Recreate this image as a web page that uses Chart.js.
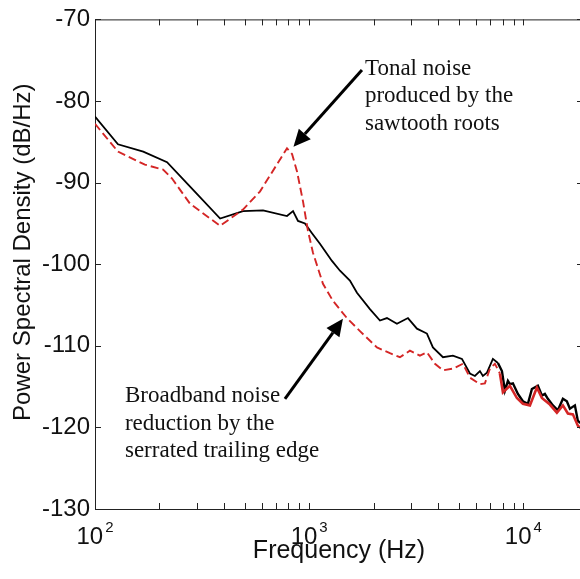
<!DOCTYPE html>
<html>
<head>
<meta charset="utf-8">
<title>Power Spectral Density</title>
<style>
    html, body { margin: 0; padding: 0; background: #fff; width: 580px; height: 579px; overflow: hidden; }
    #wrap { position: relative; width: 600px; height: 579px; }
</style>
<script src="https://cdn.jsdelivr.net/npm/chart.js@4.4.1/dist/chart.umd.min.js"></script>
</head>
<body>
<div id="wrap"><canvas id="psdChart"></canvas></div>
<script>
// Straight trailing edge (black solid)
const baselineFreq = [100, 128, 168, 217, 278, 384, 491, 609, 788, 841, 887, 956, 1031, 1123, 1278, 1393,
    1550, 1672, 1922, 2141, 2308, 2570, 2893, 3187, 3548, 3784, 4215, 4691, 5170, 5633, 5943, 6272, 6476,
    6765, 7211, 7612, 7946, 8207, 8475, 8658, 8943, 9437, 9957, 10507, 10969, 11697, 12213, 12612, 13024,
    13745, 14507, 15307, 15972, 16503, 17413, 17983, 18374, 19000];
const baselinePsd = [-81.9, -85.3, -86.2, -87.5, -90.5, -94.4, -93.5, -93.4, -94.1, -93.5, -94.7, -95.0, -96.2, -97.5, -99.6, -100.8,
    -102.0, -103.5, -105.5, -106.9, -106.6, -107.3, -106.6, -107.9, -108.5, -110.2, -111.4, -111.2, -111.6, -113.4, -113.7, -113.1, -113.7,
    -113.3, -111.6, -112.1, -113.1, -115.5, -114.3, -114.7, -114.6, -115.9, -116.8, -117.1, -115.3, -114.9, -116.1, -115.9, -116.5,
    -117.3, -117.9, -116.5, -116.8, -117.7, -117.3, -119.2, -119.4, -119.6];

// Serrated trailing edge (red dashed)
const serratedFreq = [100, 128, 171, 208, 229, 278, 384, 491, 589, 788, 832, 877, 936, 987, 1042, 1160, 1292,
    1501, 1727, 2073, 2384, 2654, 2955, 3290, 3548, 3867, 4215, 4691, 5224, 5633, 6272, 6617, 6987, 7368,
    7776, 8032, 8658, 9335, 9957, 10735, 11572, 12213, 13309, 14350, 15307, 16152, 17044, 17983, 19000];
const serratedPsd = [-82.8, -86.2, -87.8, -88.4, -89.5, -92.6, -95.3, -93.3, -91.1, -85.8, -86.5, -88.6, -92.3, -95.9, -98.6, -102.4, -104.5,
    -106.6, -108.2, -110.2, -110.9, -111.4, -110.6, -111.2, -110.8, -112.2, -113.0, -112.8, -112.2, -113.9, -114.7, -114.6, -112.8, -112.2,
    -113.4, -115.7, -114.9, -116.4, -117.1, -117.3, -115.1, -116.4, -117.2, -118.2, -117.3, -118.3, -118.4, -119.8, -120.3];

const yTicks = [-70, -80, -90, -100, -110, -120, -130];
const xMajorTicks = [100, 1000, 10000];
const xTickExponents = ['2', '3', '4'];

// annotation anchors in data units [freq, dB]
const notes = [
    { lines: ['Tonal noise', 'produced by the', 'sawtooth roots'], at: [1822, -76.8], from: [1764, -76.2], to: [845, -85.6] },
    { lines: ['Broadband noise', 'reduction by the', 'serrated trailing edge'], at: [138, -116.9], from: [771, -116.5], to: [1438, -106.7] }
];

const axisColor = '#222';
const sansFamily = '"Liberation Sans", Arial, sans-serif';

function toPoints(xs, ys) {
    return xs.map((x, i) => ({ x: x, y: ys[i] }));
}

// inward ticks, top / right frame and 10^n labels, matlab style
const innerTicks = {
    id: 'innerTicks',
    afterDraw(chart) {
        const { ctx, chartArea: a, scales: { x, y } } = chart;
        const len = 6;
        ctx.save();
        ctx.strokeStyle = axisColor;
        ctx.lineWidth = 1;
        ctx.beginPath();
        ctx.moveTo(a.left, a.top + 0.5);
        ctx.lineTo(a.right, a.top + 0.5);
        ctx.moveTo(a.right - 0.5, a.top);
        ctx.lineTo(a.right - 0.5, a.bottom);
        x.ticks.forEach(t => {
            const px = Math.round(x.getPixelForValue(t.value)) + 0.5;
            ctx.moveTo(px, a.bottom);
            ctx.lineTo(px, a.bottom - len);
            ctx.moveTo(px, a.top);
            ctx.lineTo(px, a.top + len);
        });
        y.ticks.forEach(t => {
            const py = Math.round(y.getPixelForValue(t.value)) + 0.5;
            ctx.moveTo(a.left, py);
            ctx.lineTo(a.left + len, py);
            ctx.moveTo(a.right, py);
            ctx.lineTo(a.right - len, py);
        });
        ctx.stroke();

        // 10^n labels with a real superscript
        ctx.fillStyle = '#111';
        ctx.textAlign = 'left';
        ctx.textBaseline = 'alphabetic';
        const base = a.bottom + 35;
        xMajorTicks.forEach((v, i) => {
            const px = x.getPixelForValue(v);
            ctx.font = '24px ' + sansFamily;
            const w1 = ctx.measureText('10').width;
            ctx.font = '15px ' + sansFamily;
            const w2 = ctx.measureText(xTickExponents[i]).width;
            const start = px - (w1 + w2 + 2) / 2;
            ctx.font = '24px ' + sansFamily;
            ctx.fillText('10', start, base);
            ctx.font = '15px ' + sansFamily;
            ctx.fillText(xTickExponents[i], start + w1 + 2, base - 12);
        });
        ctx.restore();
    }
};

const annotations = {
    id: 'annotations',
    afterDraw(chart) {
        const { ctx, scales: { x, y } } = chart;
        ctx.save();
        notes.forEach(n => {
            ctx.fillStyle = '#111';
            ctx.font = '23px "Liberation Serif", "Times New Roman", serif';
            ctx.textAlign = 'left';
            ctx.textBaseline = 'alphabetic';
            const tx = x.getPixelForValue(n.at[0]);
            const ty = y.getPixelForValue(n.at[1]);
            n.lines.forEach((line, i) => ctx.fillText(line, tx, ty + i * 27.5));

            // arrow
            const x0 = x.getPixelForValue(n.from[0]), y0 = y.getPixelForValue(n.from[1]);
            const x1 = x.getPixelForValue(n.to[0]), y1 = y.getPixelForValue(n.to[1]);
            const ang = Math.atan2(y1 - y0, x1 - x0);
            const head = 17, half = 8;
            const bx = x1 - head * Math.cos(ang), by = y1 - head * Math.sin(ang);
            ctx.strokeStyle = '#000';
            ctx.lineWidth = 3;
            ctx.beginPath();
            ctx.moveTo(x0, y0);
            ctx.lineTo(bx, by);
            ctx.stroke();
            ctx.fillStyle = '#000';
            ctx.beginPath();
            ctx.moveTo(x1, y1);
            ctx.lineTo(bx + half * Math.sin(ang), by - half * Math.cos(ang));
            ctx.lineTo(bx - half * Math.sin(ang), by + half * Math.cos(ang));
            ctx.closePath();
            ctx.fill();
        });
        ctx.restore();
    }
};

function initPsdChart() {
    const ctx = document.getElementById('psdChart').getContext('2d');

    new Chart(ctx, {
        type: 'line',
        data: {
            datasets: [{
                label: 'Straight',
                data: toPoints(baselineFreq, baselinePsd),
                borderColor: '#000',
                borderWidth: 1.8,
                pointRadius: 0,
                tension: 0,
                order: 1,
                segment: {
                    borderWidth: c => c.p0.parsed.x >= 7500 ? 2.4 : 1.8
                }
            }, {
                label: 'Serrated',
                data: toPoints(serratedFreq, serratedPsd),
                borderColor: '#d42626',
                borderWidth: 1.9,
                borderDash: [8, 4],
                pointRadius: 0,
                tension: 0,
                order: 0,
                segment: {
                    borderWidth: c => c.p0.parsed.x >= 7500 ? 2.6 : 1.9,
                    borderDash: c => c.p0.parsed.x >= 7500 ? [] : [8, 4]
                }
            }]
        },
        options: {
            responsive: true,
            maintainAspectRatio: false,
            animation: false,
            layout: { padding: { left: 0, right: 17, top: 17, bottom: 0 } },
            plugins: {
                legend: { display: false },
                tooltip: { enabled: false }
            },
            scales: {
                x: {
                    type: 'logarithmic',
                    min: 100,
                    max: 19000,
                    grid: { display: false, drawTicks: false },
                    border: { display: true, color: axisColor, width: 1 },
                    afterBuildTicks: scale => {
                        const ticks = [];
                        [100, 1000, 10000].forEach(d => {
                            for (let m = 1; m <= 9; m++) {
                                if (d * m <= 19000) ticks.push({ value: d * m });
                            }
                        });
                        scale.ticks = ticks;
                    },
                    afterFit: scale => { scale.height = 70; },
                    ticks: {
                        autoSkip: false,
                        maxRotation: 0,
                        callback: () => ''
                    },
                    title: {
                        display: true,
                        text: 'Frequency (Hz)',
                        color: '#111',
                        font: { family: sansFamily, size: 25 },
                        padding: { top: 0, bottom: 13 }
                    }
                },
                y: {
                    min: -130,
                    max: -70,
                    grid: { display: false, drawTicks: false },
                    border: { display: true, color: axisColor, width: 1 },
                    afterBuildTicks: scale => {
                        scale.ticks = yTicks.map(v => ({ value: v }));
                    },
                    afterFit: scale => { scale.width = 95; },
                    ticks: {
                        padding: 5,
                        color: '#111',
                        font: { family: sansFamily, size: 24 }
                    },
                    title: {
                        display: true,
                        // leading en spaces nudge the label up like the original
                        text: '\u2002\u2002Power Spectral Density (dB/Hz)',
                        color: '#111',
                        font: { family: sansFamily, size: 24 },
                        padding: { top: 9, bottom: 0 }
                    }
                }
            }
        },
        plugins: [innerTicks, annotations]
    });
}

document.addEventListener('DOMContentLoaded', function() {
    initPsdChart();
});
</script>
</body>
</html>
